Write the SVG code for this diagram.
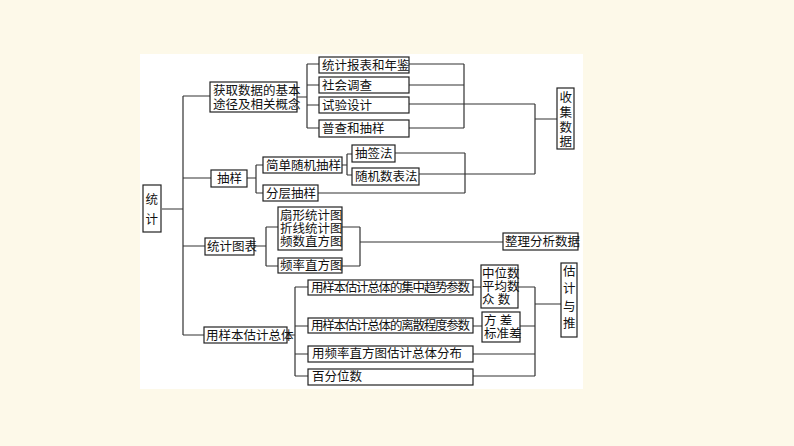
<svg xmlns="http://www.w3.org/2000/svg" width="794" height="446" viewBox="0 0 794 446">
<style>
.b{fill:#fff;stroke:#222;stroke-width:1.2}
.t{font-family:"Liberation Serif","Noto Sans CJK SC",serif;font-size:12.5px;fill:#111}
.c{fill:none;stroke:#333;stroke-width:1.2}
</style>
<rect width="794" height="446" fill="#fdf9e9"/>
<rect x="140" y="54" width="443" height="335" fill="#fff"/>
<g id="connectors" class="c">
<path d="M162 209H183M183 96V335M183 96H210M183 178H211M183 246H205M183 335H204"/>
<path d="M297 97H307M307 64V128M307 64H319M307 85H319M307 105H319M307 128H319"/>
<path d="M409 64H464M409 85H464M409 128H464M464 64V128M409 104H535M535 104V174M419 174H535M535 119H557"/>
<path d="M247 178H256M256 165V193M256 165H263M256 193H263M318 193H465M465 153V193M395 153H465"/>
<path d="M342 165H347M347 154V175M347 154H352M347 175H352"/>
<path d="M254 246H266M266 227V266M266 227H278M266 266H278M342 227H360M342 266H360M360 227V266M360 242H503"/>
<path d="M287 335H295M295 287V376M295 287H308M295 326H308M295 354H308M295 376H308"/>
<path d="M473 287H481M473 326H482M518 287H535M520 326H535M473 354H535M473 376H535M535 287V376M535 304H561"/>
</g>
<g id="n-tongji"><rect class="b" x="143" y="185" width="18" height="47"/><text class="t" x="145.5" y="204">统</text><text class="t" x="145.5" y="224">计</text></g>
<g id="n-huoqu"><rect class="b" x="210" y="82" width="87" height="30"/><text class="t" x="213" y="95">获取数据的基本</text><text class="t" x="213" y="109">途径及相关概念</text></g>
<g id="n-baobiao"><rect class="b" x="319" y="57" width="90" height="16"/><text class="t" x="322" y="70">统计报表和年鉴</text></g>
<g id="n-shehui"><rect class="b" x="319" y="77" width="90" height="16"/><text class="t" x="322" y="90">社会调查</text></g>
<g id="n-shiyan"><rect class="b" x="319" y="97" width="90" height="16"/><text class="t" x="322" y="110">试验设计</text></g>
<g id="n-pucha"><rect class="b" x="319" y="120" width="90" height="17"/><text class="t" x="322" y="133">普查和抽样</text></g>
<g id="n-shouji"><rect class="b" x="557" y="88" width="17" height="61"/><text class="t" x="559.5" y="102">收</text><text class="t" x="559.5" y="117">集</text><text class="t" x="559.5" y="132">数</text><text class="t" x="559.5" y="146">据</text></g>
<g id="n-chouyang"><rect class="b" x="211" y="170" width="36" height="17"/><text class="t" x="217" y="183">抽样</text></g>
<g id="n-jiandan"><rect class="b" x="263" y="157" width="79" height="16"/><text class="t" x="266" y="170">简单随机抽样</text></g>
<g id="n-fenceng"><rect class="b" x="263" y="185" width="55" height="16"/><text class="t" x="266" y="198">分层抽样</text></g>
<g id="n-chouqian"><rect class="b" x="352" y="145" width="43" height="17"/><text class="t" x="355" y="158">抽签法</text></g>
<g id="n-suiji"><rect class="b" x="352" y="168" width="67" height="17"/><text class="t" x="355" y="181">随机数表法</text></g>
<g id="n-tubiao"><rect class="b" x="205" y="238" width="49" height="17"/><text class="t" x="207" y="251">统计图表</text></g>
<g id="n-shanxing"><rect class="b" x="278" y="207" width="64" height="43"/><text class="t" x="280" y="220">扇形统计图</text><text class="t" x="280" y="233">折线统计图</text><text class="t" x="280" y="246">频数直方图</text></g>
<g id="n-pinlv"><rect class="b" x="278" y="258" width="64" height="15"/><text class="t" x="280" y="270">频率直方图</text></g>
<g id="n-zhengli"><rect class="b" x="503" y="233" width="75" height="17"/><text class="t" x="505" y="246">整理分析数据</text></g>
<g id="n-yangben"><rect class="b" x="204" y="327" width="83" height="16"/><text class="t" x="206" y="340">用样本估计总体</text></g>
<g id="n-jizhong"><rect class="b" x="308" y="280" width="165" height="15"/><text class="t" x="311" y="292" textLength="159">用样本估计总体的集中趋势参数</text></g>
<g id="n-lisan"><rect class="b" x="308" y="318" width="165" height="15"/><text class="t" x="311" y="330" textLength="159">用样本估计总体的离散程度参数</text></g>
<g id="n-fenbu"><rect class="b" x="308" y="346" width="165" height="16"/><text class="t" x="312" y="358">用频率直方图估计总体分布</text></g>
<g id="n-baifen"><rect class="b" x="308" y="369" width="165" height="16"/><text class="t" x="312" y="381">百分位数</text></g>
<g id="n-zhongwei"><rect class="b" x="481" y="265" width="37" height="43"/><text class="t" x="482" y="278">中位数</text><text class="t" x="482" y="291">平均数</text><text class="t" x="482" y="304">众  数</text></g>
<g id="n-fangcha"><rect class="b" x="482" y="312" width="38" height="30"/><text class="t" x="484" y="325">方  差</text><text class="t" x="484" y="338">标准差</text></g>
<g id="n-guji"><rect class="b" x="561" y="263" width="16" height="74"/><text class="t" x="563" y="276">估</text><text class="t" x="563" y="293">计</text><text class="t" x="563" y="311">与</text><text class="t" x="563" y="318" dy="0"></text><text class="t" x="563" y="328">推</text><text class="t" x="563" y="334" dy="0"></text></g>
</svg>
